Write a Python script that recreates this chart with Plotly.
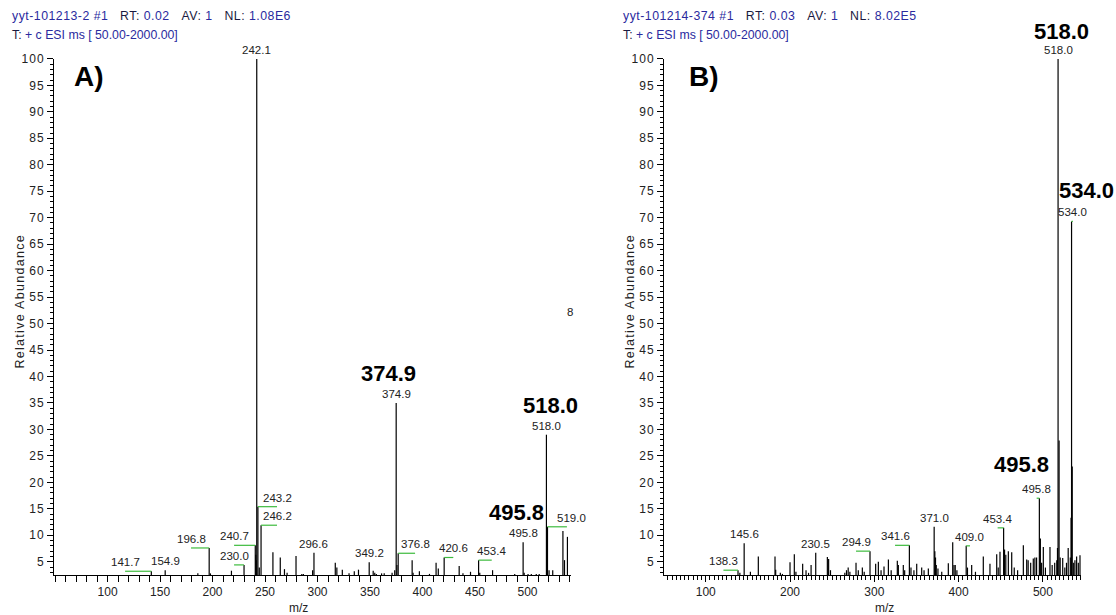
import plotly.graph_objects as go

W, H = 1116, 615
FONT = "Liberation Sans, Arial, sans-serif"
BLUE = "#2a2a9e"
GREEN = "#3dbb3d"

# ---------------- data: spectrum A ----------------
A_mz = [141.7, 143.5, 154.9, 181.0, 186.0, 196.8, 198.0, 218.0, 230.0, 240.7, 241.2, 241.6,
        242.1, 243.2, 244.5, 246.2, 257.5, 264.5, 268.5, 271.0, 279.5, 285.0, 286.5, 295.3,
        296.6, 316.9, 318.4, 323.6, 330.0, 335.0, 339.0, 349.2, 353.0, 354.5, 356.0, 361.0,
        363.5, 371.0, 373.5, 374.9, 375.6, 376.8, 390.1, 391.0, 397.0, 406.6, 412.9, 415.0,
        420.6, 434.9, 438.5, 445.7, 453.4, 454.5, 466.7, 487.8, 495.8, 496.8, 500.5, 503.6,
        508.3, 511.1, 518.0, 518.6, 519.0, 520.5, 524.0, 533.7, 535.2, 538.0]
A_int = [3.2, 2.4, 3.4, 2.4, 2.8, 7.6, 2.8, 3.3, 4.4, 8.1, 6.3, 5.3,
         100.0, 15.4, 3.9, 11.9, 6.8, 5.8, 3.6, 2.9, 6.1, 2.7, 2.7, 3.4,
         6.7, 4.8, 3.9, 3.5, 2.8, 3.2, 3.5, 4.9, 3.3, 2.9, 2.7, 2.8,
         2.8, 2.9, 3.4, 35.0, 4.4, 6.6, 5.3, 2.9, 3.2, 2.7, 4.8, 3.7,
         5.8, 4.2, 2.8, 3.1, 5.3, 2.9, 3.4, 2.7, 8.7, 2.9, 2.7, 2.7,
         2.7, 2.7, 29.0, 7.2, 11.6, 3.4, 3.4, 10.8, 5.3, 9.7]

# labelled peaks of A: m/z, label text, label centre (m/z), extra pixel shift
A_lab_mz = [141.7, 154.9, 196.8, 230.0, 240.7, 242.1, 243.2, 246.2, 296.6, 349.2,
            374.9, 376.8, 420.6, 453.4, 495.8, 518.0, 519.0]
A_lab_txt = ["141.7", "154.9", "196.8", "230.0", "240.7", "242.1", "243.2", "246.2", "296.6",
             "349.2", "374.9", "376.8", "420.6", "453.4", "495.8", "518.0", "519.0"]
A_lab_pos = [116.7, 154.9, 179.5, 220.5, 220.5, 242.1, 261.4, 261.4, 296.6, 349.2,
             374.9, 392.9, 429.3, 465.9, 495.8, 518.0, 537.5]
A_lab_dx = [0, 0, 0, 0, 0, 0, 0, 0, 0, 0, 0, 0, 0, 0, 0, 0, 5]

# ---------------- data: spectrum B ----------------
B_mz = [138.3, 140.5, 145.6, 153.0, 162.4, 182.2, 183.0, 188.5, 191.0, 200.0, 205.1, 207.0,
        215.0, 219.0, 222.0, 225.0, 230.5, 244.3, 245.8, 248.0, 265.0, 267.0, 269.0, 271.0,
        278.3, 281.0, 285.8, 288.0, 294.9, 301.6, 304.8, 308.0, 311.5, 316.7, 320.0, 327.3,
        328.5, 334.4, 336.0, 341.6, 343.5, 347.0, 350.3, 356.2, 359.0, 364.1, 371.0, 371.8,
        372.6, 373.5, 375.5, 380.0, 387.8, 393.0, 394.5, 396.0, 398.0, 409.0, 410.5, 415.5,
        420.0, 429.3, 437.2, 445.2, 447.0, 449.1, 453.4, 454.5, 456.0, 459.0, 463.0, 466.0,
        470.0, 476.8, 480.8, 482.5, 485.5, 488.6, 490.5, 492.5, 495.8, 497.0, 498.5, 500.5,
        503.0, 508.4, 511.0, 514.0, 516.5, 517.3, 518.0, 519.2, 520.5, 523.5, 526.0, 528.0,
        530.0, 532.5, 533.4, 534.0, 534.8, 536.5, 538.0, 540.0, 542.0, 544.0]
B_int = [3.4, 2.9, 8.5, 3.1, 6.0, 6.0, 3.5, 2.9, 2.7, 4.9, 6.4, 3.1,
         4.6, 3.4, 2.9, 4.4, 6.7, 5.9, 5.5, 3.4, 2.9, 3.4, 3.9, 3.1,
         4.8, 3.4, 3.9, 3.1, 7.0, 4.6, 5.0, 3.4, 4.1, 5.4, 3.4, 5.2,
         4.4, 4.4, 3.4, 8.1, 3.9, 3.4, 4.6, 3.9, 3.4, 3.7, 11.6, 7.0,
         5.8, 4.4, 3.7, 3.1, 4.7, 8.7, 4.4, 4.4, 3.4, 8.0, 3.9, 4.4,
         3.1, 6.0, 4.6, 6.4, 3.9, 6.9, 11.4, 7.3, 6.3, 7.0, 6.8, 3.9,
         3.4, 8.1, 5.4, 5.3, 4.8, 5.6, 5.8, 5.8, 17.0, 9.4, 4.8, 7.8,
         3.9, 7.8, 4.4, 4.8, 5.3, 7.6, 100.0, 27.9, 5.8, 5.7, 3.9, 4.8,
         7.6, 5.8, 13.3, 69.3, 23.0, 4.8, 5.3, 6.0, 4.8, 6.2]

B_lab_mz = [138.3, 145.6, 230.5, 294.9, 341.6, 371.0, 409.0, 453.4, 495.8, 518.0, 534.0]
B_lab_txt = ["138.3", "145.6", "230.5", "294.9", "341.6", "371.0", "409.0", "453.4",
             "495.8", "518.0", "534.0"]
B_lab_pos = [121.0, 145.6, 230.5, 278.3, 324.6, 371.0, 413.5, 446.3, 492.6, 518.0, 535.6]
B_lab_dx = [0] * len(B_lab_mz)

# axis ticks
y_ticks = [5, 10, 15, 20, 25, 30, 35, 40, 45, 50, 55, 60, 65, 70, 75, 80, 85, 90, 95, 100]
A_xticks = [100, 150, 200, 250, 300, 350, 400, 450, 500]
B_xticks = [100, 200, 300, 400, 500]

# headers
A_header = ("yyt-101213-2 #1", "0.02", "1", "1.08E6")
B_header = ("yyt-101214-374 #1", "0.03", "1", "8.02E5")
scan_line = "+ c ESI ms [ 50.00-2000.00]"

# big bold annotations (text)
A_big = ["374.9", "518.0", "495.8"]
B_big = ["518.0", "534.0", "495.8"]


def px(x):
    return x / W


def py(y):
    return 1 - y / H


def sticks(mz, inten):
    xs, ys = [], []
    for m, v in zip(mz, inten):
        xs += [m, m, None]
        ys += [0, v, None]
    return xs, ys


fig = go.Figure()

panels = [
    dict(mz=A_mz, inten=A_int, lmz=A_lab_mz, ltxt=A_lab_txt, lpos=A_lab_pos, ldx=A_lab_dx,
         xa="x", ya="y"),
    dict(mz=B_mz, inten=B_int, lmz=B_lab_mz, ltxt=B_lab_txt, lpos=B_lab_pos, ldx=B_lab_dx,
         xa="x2", ya="y2"),
]

annotations = []
for p in panels:
    xs, ys = sticks(p["mz"], p["inten"])
    fig.add_trace(go.Scatter(x=xs, y=ys, mode="lines", xaxis=p["xa"], yaxis=p["ya"],
                             line=dict(color="black", width=1.2), hoverinfo="skip",
                             showlegend=False, cliponaxis=True))
    lookup = dict(zip(p["mz"], p["inten"]))
    for m, t, pos, dx in zip(p["lmz"], p["ltxt"], p["lpos"], p["ldx"]):
        h = lookup[m]
        if abs(pos - m) > 0.5:
            fig.add_trace(go.Scatter(x=[pos, m], y=[h, h], mode="lines", xaxis=p["xa"],
                                     yaxis=p["ya"], line=dict(color=GREEN, width=1.2),
                                     hoverinfo="skip", showlegend=False, cliponaxis=False))
        annotations.append(dict(x=pos, y=h, xref=p["xa"], yref=p["ya"], text=t,
                                showarrow=False, yanchor="bottom", xanchor="center", yshift=1,
                                xshift=dx,
                                font=dict(family=FONT, size=11.5, color="#222222")))

# header text
nb = "\u00a0"
LS = "letter-spacing:0.5px"
for hdr, x0 in [(A_header, 10), (B_header, 621)]:
    line1 = (f"<span style='{LS}'><span style='color:{BLUE}'>{hdr[0]}</span>{nb*3}RT:{nb}"
             f"<span style='color:{BLUE}'>{hdr[1]}</span>{nb*3}AV:{nb}"
             f"<span style='color:{BLUE}'>{hdr[2]}</span>{nb*3}NL:{nb}"
             f"<span style='color:{BLUE}'>{hdr[3]}</span></span>")
    line2 = f"T:{nb}<span style='color:{BLUE}'>{scan_line}</span>"
    annotations.append(dict(x=px(x0), y=py(9), xref="paper", yref="paper", text=line1,
                            showarrow=False, xanchor="left", yanchor="middle",
                            font=dict(family=FONT, size=12.3, color="#1a1a40")))
    annotations.append(dict(x=px(x0), y=py(28), xref="paper", yref="paper", text=line2,
                            showarrow=False, xanchor="left", yanchor="middle",
                            font=dict(family=FONT, size=12.3, color="#1a1a40")))

# panel letters
for t, x, y in [("A)", 89, 70), ("B)", 704, 70)]:
    annotations.append(dict(x=px(x), y=py(y), xref="paper", yref="paper", text=f"<b>{t}</b>",
                            showarrow=False, xanchor="center", yanchor="middle",
                            font=dict(family=FONT, size=28, color="black")))

# big bold peak labels
for t, x, y in zip(A_big + B_big,
                   [388, 550, 516, 1061, 1086, 1021],
                   [370.5, 403, 511.5, 24.5, 186, 463]):
    annotations.append(dict(x=px(x), y=py(y), xref="paper", yref="paper", text=f"<b>{t}</b>",
                            showarrow=False, xanchor="center", yanchor="middle",
                            font=dict(family=FONT, size=22, color="black")))

# stray label fragment
annotations.append(dict(x=px(570), y=py(309), xref="paper", yref="paper", text="8",
                        showarrow=False, xanchor="center", yanchor="middle",
                        font=dict(family=FONT, size=11.5, color="#222222")))

# axis titles
for x in [20, 630]:
    annotations.append(dict(x=px(x), y=py(298), xref="paper", yref="paper",
                            text="<span style='letter-spacing:1.3px'>Relative Abundance</span>",
                            textangle=-90, showarrow=False,
                            xanchor="center", yanchor="middle",
                            font=dict(family=FONT, size=12.5, color="#222222")))
for x in [298, 884]:
    annotations.append(dict(x=px(x), y=py(608), xref="paper", yref="paper", text="m/z",
                            showarrow=False, xanchor="center", yanchor="middle",
                            font=dict(family=FONT, size=12, color="#222222")))

ydom = [py(574.5), py(52.5)]
yax = dict(range=[2.5, 100], domain=ydom, tickmode="array", tickvals=y_ticks,
           ticktext=[f"<span style='letter-spacing:1px'>{v}</span>" for v in y_ticks],
           ticks="outside", ticklen=6, tickcolor="black", showline=True, linecolor="black",
           linewidth=1, showgrid=False, zeroline=False,
           tickfont=dict(family=FONT, size=12, color="#222222"),
           minor=dict(tickmode="linear", tick0=0, dtick=1, ticklen=3, ticks="outside",
                      tickcolor="black", showgrid=False))

xA = dict(range=[49.0, 541.4], domain=[px(54), px(571)], anchor="y", tickmode="array",
          tickvals=A_xticks, ticks="outside", ticklen=6,
          tickcolor="black", showline=True, linecolor="black", linewidth=1, showgrid=False,
          zeroline=False, tickfont=dict(family=FONT, size=12, color="#222222"),
          minor=dict(tickmode="linear", tick0=0, dtick=10, ticklen=6, ticks="outside",
                     tickcolor="black", showgrid=False))
xB = dict(range=[50.5, 545.2], domain=[px(664), px(1081)], anchor="y2", tickmode="array",
          tickvals=B_xticks, ticks="outside", ticklen=6,
          tickcolor="black", showline=True, linecolor="black", linewidth=1, showgrid=False,
          zeroline=False, tickfont=dict(family=FONT, size=12, color="#222222"),
          minor=dict(tickmode="linear", tick0=0, dtick=5, ticklen=4, ticks="outside",
                     tickcolor="black", showgrid=False))

fig.update_layout(
    width=W, height=H, autosize=False,
    margin=dict(l=0, r=0, t=0, b=0),
    paper_bgcolor="white", plot_bgcolor="white",
    xaxis=xA, xaxis2=xB,
    yaxis=dict(yax, anchor="x"),
    yaxis2=dict(yax, anchor="x2"),
    annotations=annotations,
    showlegend=False,
)

fig.write_html("out.html")
